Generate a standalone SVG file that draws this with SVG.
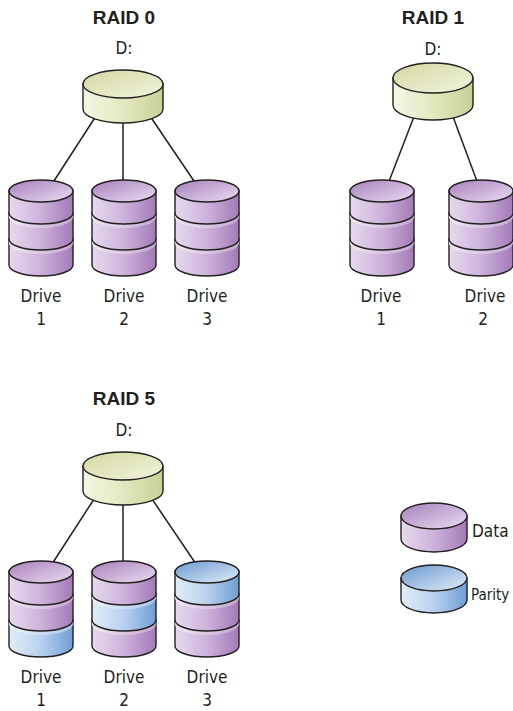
<svg xmlns="http://www.w3.org/2000/svg" width="513" height="711" viewBox="0 0 513 711">
  <style>
    .title { font-family: "Liberation Sans", Arial, sans-serif; font-weight: bold; font-size: 19px; fill: #231f20; text-anchor: middle; }
    .lbl { font-family: "DejaVu Sans Condensed", "Liberation Sans", sans-serif; font-size: 17px; fill: #231f20; text-anchor: middle; }
    .leg { font-family: "DejaVu Sans Condensed", "Liberation Sans", sans-serif; font-size: 17px; fill: #231f20; }
    .edge { stroke: #231f20; stroke-width: 1.5; fill: none; }
    .ol { stroke: #231f20; stroke-width: 1.4; }
    .dbody { fill: url(#purpleBody); }
    .dtop { fill: url(#purpleTop); }
    .dband { fill: url(#purpleBand); }
    .pbody { fill: url(#blueBody); }
    .ptop { fill: url(#blueTop); }
    .pband { fill: url(#blueBand); }
  </style>
  <defs>
    <linearGradient id="purpleBody" x1="0" y1="0" x2="1" y2="0">
      <stop offset="0" stop-color="#e6daee"/>
      <stop offset="0.5" stop-color="#cdb2db"/>
      <stop offset="1" stop-color="#a37ab7"/>
    </linearGradient>
    <linearGradient id="purpleTop" x1="0" y1="0" x2="1" y2="1">
      <stop offset="0" stop-color="#a87fbd"/>
      <stop offset="1" stop-color="#e9def0"/>
    </linearGradient>
    <linearGradient id="purpleBand" x1="0" y1="0" x2="1" y2="0">
      <stop offset="0" stop-color="#f0e9f5"/>
      <stop offset="1" stop-color="#c4a6d2"/>
    </linearGradient>
    <linearGradient id="blueBody" x1="0" y1="0" x2="1" y2="0">
      <stop offset="0" stop-color="#e0ecf8"/>
      <stop offset="0.5" stop-color="#b9d1ee"/>
      <stop offset="1" stop-color="#6f9dd3"/>
    </linearGradient>
    <linearGradient id="blueTop" x1="0" y1="0" x2="1" y2="1">
      <stop offset="0" stop-color="#6a99d1"/>
      <stop offset="1" stop-color="#e2edf8"/>
    </linearGradient>
    <linearGradient id="blueBand" x1="0" y1="0" x2="1" y2="0">
      <stop offset="0" stop-color="#eef5fc"/>
      <stop offset="1" stop-color="#a9c6ea"/>
    </linearGradient>
    <linearGradient id="yellowBody" x1="0" y1="0" x2="1" y2="0">
      <stop offset="0" stop-color="#f5f7e4"/>
      <stop offset="0.5" stop-color="#e4e8bf"/>
      <stop offset="1" stop-color="#c9d095"/>
    </linearGradient>
    <linearGradient id="yellowTop" x1="0" y1="0" x2="1" y2="1">
      <stop offset="0" stop-color="#d3d8a0"/>
      <stop offset="1" stop-color="#f2f4df"/>
    </linearGradient>

    <!-- one drive layer, local origin at the centre of its top ellipse -->
    <path id="bodyTop" d="M-32,0 V22 A32 11 0 0 0 32,22 V0 Z"/>
    <path id="bodyLow" d="M-32,-4 V22 A32 11 0 0 0 32,22 V-4 Z"/>
    <ellipse id="cap" cx="0" cy="0" rx="32" ry="11"/>

    <!-- three-layer stacks, drawn bottom layer first -->
    <g id="stackDDD">
      <use href="#bodyLow" class="dbody ol" y="52"/><use href="#cap" class="dband" y="52"/>
      <use href="#bodyLow" class="dbody ol" y="26"/><use href="#cap" class="dband" y="26"/>
      <use href="#bodyTop" class="dbody ol"/><use href="#cap" class="dtop ol"/>
    </g>
    <g id="stackDDP">
      <use href="#bodyLow" class="pbody ol" y="52"/><use href="#cap" class="pband" y="52"/>
      <use href="#bodyLow" class="dbody ol" y="26"/><use href="#cap" class="dband" y="26"/>
      <use href="#bodyTop" class="dbody ol"/><use href="#cap" class="dtop ol"/>
    </g>
    <g id="stackDPD">
      <use href="#bodyLow" class="dbody ol" y="52"/><use href="#cap" class="dband" y="52"/>
      <use href="#bodyLow" class="pbody ol" y="26"/><use href="#cap" class="pband" y="26"/>
      <use href="#bodyTop" class="dbody ol"/><use href="#cap" class="dtop ol"/>
    </g>
    <g id="stackPDD">
      <use href="#bodyLow" class="dbody ol" y="52"/><use href="#cap" class="dband" y="52"/>
      <use href="#bodyLow" class="dbody ol" y="26"/><use href="#cap" class="dband" y="26"/>
      <use href="#bodyTop" class="pbody ol"/><use href="#cap" class="ptop ol"/>
    </g>

    <!-- logical volume cylinder -->
    <g id="volume">
      <path d="M-40,0 V25 A40 14 0 0 0 40,25 V0 Z" fill="url(#yellowBody)" class="ol"/>
      <ellipse cx="0" cy="0" rx="40" ry="14" fill="url(#yellowTop)" class="ol"/>
    </g>
  </defs>

  <rect width="513" height="711" fill="#ffffff"/>

  <!-- connectors -->
  <g id="connectors">
    <path class="edge" d="M96,116 L52,184"/>
    <path class="edge" d="M123,118 V184"/>
    <path class="edge" d="M150,116 L196,184"/>
    <path class="edge" d="M415,114 L388,184"/>
    <path class="edge" d="M452,114 L478,184"/>
    <path class="edge" d="M96,496 L52,564"/>
    <path class="edge" d="M123,498 V564"/>
    <path class="edge" d="M150,496 L196,564"/>
  </g>

  <!-- RAID 0 -->
  <g id="raid0-title"><text class="title" x="124" y="24">RAID 0</text></g>
  <g id="raid0-volume">
    <text class="lbl" x="124" y="54">D:</text>
    <use href="#volume" x="123" y="84"/>
  </g>
  <g id="raid0-drive1">
    <use href="#stackDDD" x="41" y="191"/>
    <text class="lbl" x="41" y="302">Drive</text><text class="lbl" x="41" y="325">1</text>
  </g>
  <g id="raid0-drive2">
    <use href="#stackDDD" x="124" y="191"/>
    <text class="lbl" x="124" y="302">Drive</text><text class="lbl" x="124" y="325">2</text>
  </g>
  <g id="raid0-drive3">
    <use href="#stackDDD" x="207" y="191"/>
    <text class="lbl" x="207" y="302">Drive</text><text class="lbl" x="207" y="325">3</text>
  </g>

  <!-- RAID 1 -->
  <g id="raid1-title"><text class="title" x="433" y="24">RAID 1</text></g>
  <g id="raid1-volume">
    <text class="lbl" x="433" y="55">D:</text>
    <g transform="translate(433,78)">
      <path d="M-40,0 V27 A40 15 0 0 0 40,27 V0 Z" fill="url(#yellowBody)" class="ol"/>
      <ellipse cx="0" cy="0" rx="40" ry="15" fill="url(#yellowTop)" class="ol"/>
    </g>
  </g>
  <g id="raid1-drive1">
    <use href="#stackDDD" x="382" y="191"/>
    <text class="lbl" x="381" y="302">Drive</text><text class="lbl" x="381" y="325">1</text>
  </g>
  <g id="raid1-drive2">
    <use href="#stackDDD" x="481" y="191"/>
    <text class="lbl" x="485" y="302">Drive</text><text class="lbl" x="483" y="325">2</text>
  </g>

  <!-- RAID 5 -->
  <g id="raid5-title"><text class="title" x="124" y="405">RAID 5</text></g>
  <g id="raid5-volume">
    <text class="lbl" x="124" y="436">D:</text>
    <use href="#volume" x="123" y="466"/>
  </g>
  <g id="raid5-drive1">
    <use href="#stackDDP" x="41" y="572"/>
    <text class="lbl" x="41" y="683">Drive</text><text class="lbl" x="41" y="706">1</text>
  </g>
  <g id="raid5-drive2">
    <use href="#stackDPD" x="124" y="572"/>
    <text class="lbl" x="124" y="683">Drive</text><text class="lbl" x="124" y="706">2</text>
  </g>
  <g id="raid5-drive3">
    <use href="#stackPDD" x="207" y="572"/>
    <text class="lbl" x="207" y="683">Drive</text><text class="lbl" x="207" y="706">3</text>
  </g>

  <!-- legend -->
  <g id="legend-data">
    <g transform="translate(434,516)">
      <path d="M-33,0 V23 A33 13 0 0 0 33,23 V0 Z" class="dbody ol"/>
      <ellipse cx="0" cy="0" rx="33" ry="13" class="dtop ol"/>
    </g>
    <text class="leg" x="472" y="537">Data</text>
  </g>
  <g id="legend-parity">
    <g transform="translate(434,578)">
      <path d="M-33,0 V22 A33 13 0 0 0 33,22 V0 Z" class="pbody ol"/>
      <ellipse cx="0" cy="0" rx="33" ry="13" class="ptop ol"/>
    </g>
    <text class="leg" x="471" y="600" style="font-size:15px">Parity</text>
  </g>
</svg>
